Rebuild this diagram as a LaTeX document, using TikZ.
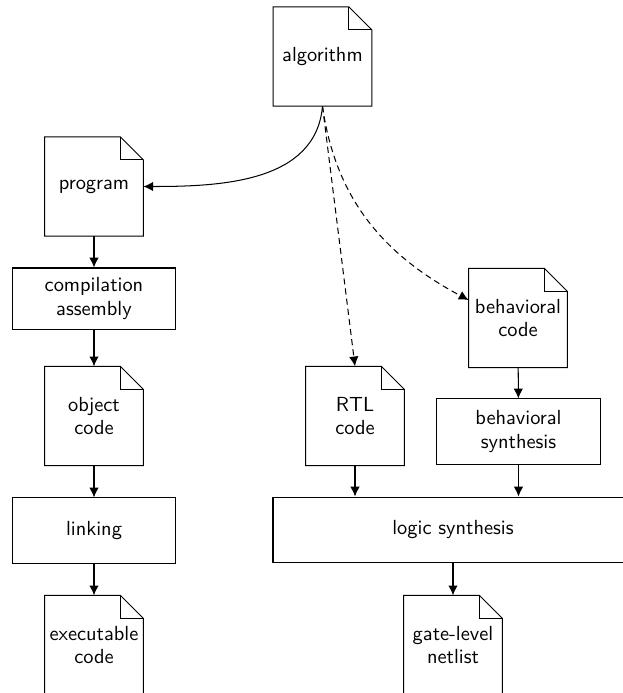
\documentclass[tikz,border=0pt]{standalone}
\usetikzlibrary{arrows.meta}
\begin{document}
\begin{tikzpicture}[x=0.49pt,y=-0.49pt,
  every node/.style={font=\sffamily\fontsize{10}{11.3}\selectfont, align=center, inner sep=0pt},
  docnode/.style={minimum width=48pt, minimum height=48.3pt},
  boxnode/.style={draw, line width=0.5pt},
  conn/.style={line width=0.5pt, -{Latex[length=4.8pt,width=4.6pt]}},
  dconn/.style={conn, dash pattern=on 3pt off 2pt},
  outline/.style={line width=0.5pt, line join=miter}]
\useasboundingbox (0,0) rectangle (623,693);
\clip (0,0) rectangle (623,693);
% documents
\node[docnode] (alg)   at (322.5,56.5) {algorithm};
\node[docnode] (prog)  at (94,186.5)   {program};
\node[docnode] (obj)   at (94,416)     {object\\code};
\node[docnode] (exe)   at (94,645)     {executable\\code};
\node[docnode] (rtl)   at (355,416)    {RTL\\code};
\node[docnode] (bcode) at (518,318)    {behavioral\\code};
\node[docnode] (gate)  at (453,645)    {gate-level\\netlist};
% process boxes
\node[boxnode, minimum width=79.4pt, minimum height=29.9pt] (comp)  at (94,298.5)  {compilation\\assembly};
\node[boxnode, minimum width=79.9pt, minimum height=31.9pt] (link)  at (94,530.5)  {linking};
\node[boxnode, minimum width=79.9pt, minimum height=31.9pt] (bsyn)  at (518.5,431.5) {behavioral\\synthesis};
\node[boxnode, minimum width=176.4pt, minimum height=32.3pt] (logic) at (453,530)  {logic synthesis};
% document outlines
\foreach \n in {alg,prog,obj,exe,rtl,bcode,gate}{
  \draw[outline] (\n.south west) -- (\n.north west) -- ([xshift=-11.3pt]\n.north east)
    -- ([yshift=-11.3pt]\n.north east) -- (\n.south east) -- cycle;
  \draw[outline] ([xshift=-11.3pt]\n.north east) |- ([yshift=-11.3pt]\n.north east);
}
% connectors
\draw[conn] (alg.south) to[out=-95,in=0] (prog.east);
\draw[dconn] (alg.south) -- (rtl.north);
\draw[dconn] (alg.south) to[out=-82,in=152] (bcode.160);
\draw[conn] (prog) -- (comp);
\draw[conn] (comp) -- (obj);
\draw[conn] (obj) -- (link);
\draw[conn] (link) -- (exe);
\draw[conn] (bcode) -- (bsyn);
\draw[conn] (rtl.south) -- (rtl.south |- logic.north);
\draw[conn] (bsyn.south) -- (bsyn.south |- logic.north);
\draw[conn] (logic.south) -- (gate.north);
\end{tikzpicture}
\end{document}
